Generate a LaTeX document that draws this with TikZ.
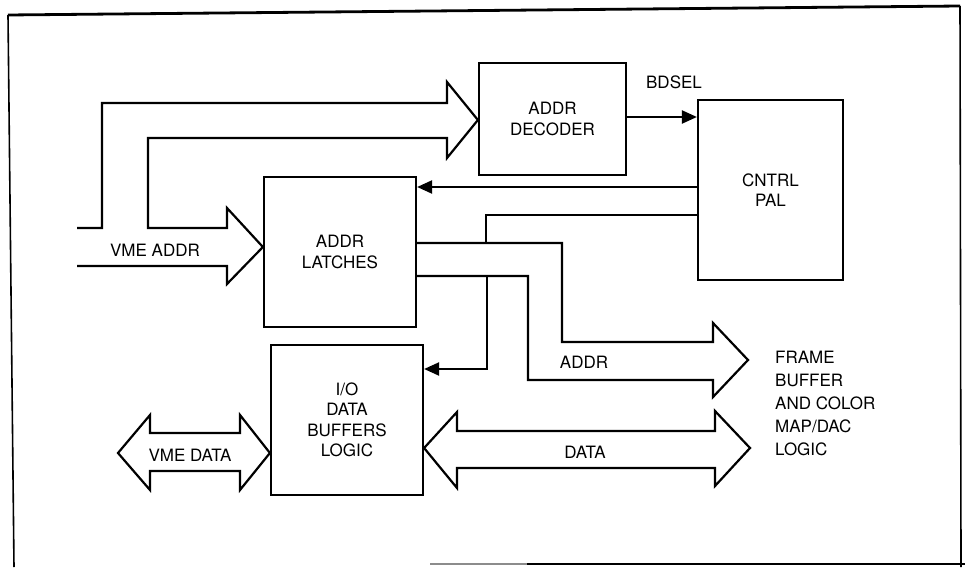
\documentclass[tikz,border=0pt]{standalone}
\usepackage{fontspec}
\setmainfont{TeX Gyre Heros}
\usetikzlibrary{arrows.meta,calc}
\begin{document}
\begin{tikzpicture}[x=1pt,y=-1pt,
  line join=miter,
  box/.style={draw,line width=2.2pt,inner sep=0pt,align=center,
    font=\fontsize{17}{20.5}\selectfont},
  bus/.style={draw,line width=2.2pt},
  sig/.style={draw,line width=2.2pt},
  sigarrow/.style={sig,-{Triangle[length=15pt,width=13pt]}},
  lbl/.style={font=\fontsize{17}{20}\selectfont,inner sep=0pt}]
\useasboundingbox (0,0) rectangle (965,567);
% frame
\draw[line width=2.8pt] (8,15) -- (960,6);
\draw[line width=1.6pt] (8,15) -- (14,567);
\draw[line width=1.6pt] (960,6) -- (961,567);
\draw[line width=1.2pt,black!45] (430,564) -- (527,564);
\draw[line width=2.4pt] (527,564) -- (965,564);
% boxes
\node[box,minimum width=147pt,minimum height=112pt] (dec) at (552.5,119) {ADDR\\DECODER};
\node[box,minimum width=145pt,minimum height=180pt] (pal) at (770.5,190) {CNTRL\\PAL};
\node[box,minimum width=152pt,minimum height=150pt] (lat) at (340,252) {ADDR\\LATCHES};
\node[box,minimum width=152pt,minimum height=150pt] (io) at (347,420) {I/O\\DATA\\BUFFERS\\LOGIC};
% free ends
\coordinate (vmeUp) at (77,228);
\coordinate (vmeLo) at (77,266);
\coordinate (vdTipL) at (118,453);
\coordinate (fbTip) at (748,360);
\coordinate (dTipR) at (750,448);
% VME ADDR bus, branching to decoder and latches
\draw[bus] (vmeUp) -- (102,228) -- (102,103) -- (447,103) -- (447,82)
  -- (dec.west |- 0,120) -- (447,158) -- (447,138) -- (148,138) -- (148,228)
  -- (227,228) -- (227,208) -- (lat.west |- 0,247) -- (227,284) -- (227,266)
  -- (vmeLo);
\node[lbl] (vmeaddr) at (155,250) {VME ADDR};
% BDSEL
\draw[sigarrow] (dec.east |- 0,117) -- (pal.west |- 0,117);
\node[lbl] (bdsel) at (674,82) {BDSEL};
% control to latches
\draw[sigarrow] (pal.west |- 0,187) -- (lat.east |- 0,187);
% control line joining ADDR bus
\draw[sig] (pal.west |- 0,215) -- (486,215) -- (486,243);
% ADDR bus to frame buffer
\draw[bus] (lat.east |- 0,243) -- (562,243) -- (562,342) -- (713,342) -- (713,323)
  -- (fbTip) -- (713,397) -- (713,380) -- (528,380) -- (528,276) -- (lat.east |- 0,276);
\node[lbl] (addr) at (584,362) {ADDR};
% address tap to I/O
\draw[sigarrow] (487,276) -- (487,369) -- (io.east |- 0,369);
% DATA bus
\draw[bus] (io.east |- 0,448) -- (457,412) -- (457,431) -- (715,431) -- (715,411)
  -- (dTipR) -- (715,486) -- (715,468) -- (457,468) -- (457,488) -- cycle;
\node[lbl] (data) at (585,452) {DATA};
% VME DATA bus
\draw[bus] (vdTipL) -- (150,415) -- (150,433) -- (240,433) -- (240,415)
  -- (io.west |- 0,453) -- (240,490) -- (240,471) -- (150,471) -- (150,490) -- cycle;
\node[lbl] (vmedata) at (190,455) {VME DATA};
% destination label
\node[lbl,anchor=west,align=left,font=\fontsize{17}{23}\selectfont] (fb) at (775,403.5)
  {FRAME\\BUFFER\\AND COLOR\\MAP/DAC\\LOGIC};
\end{tikzpicture}
\end{document}
